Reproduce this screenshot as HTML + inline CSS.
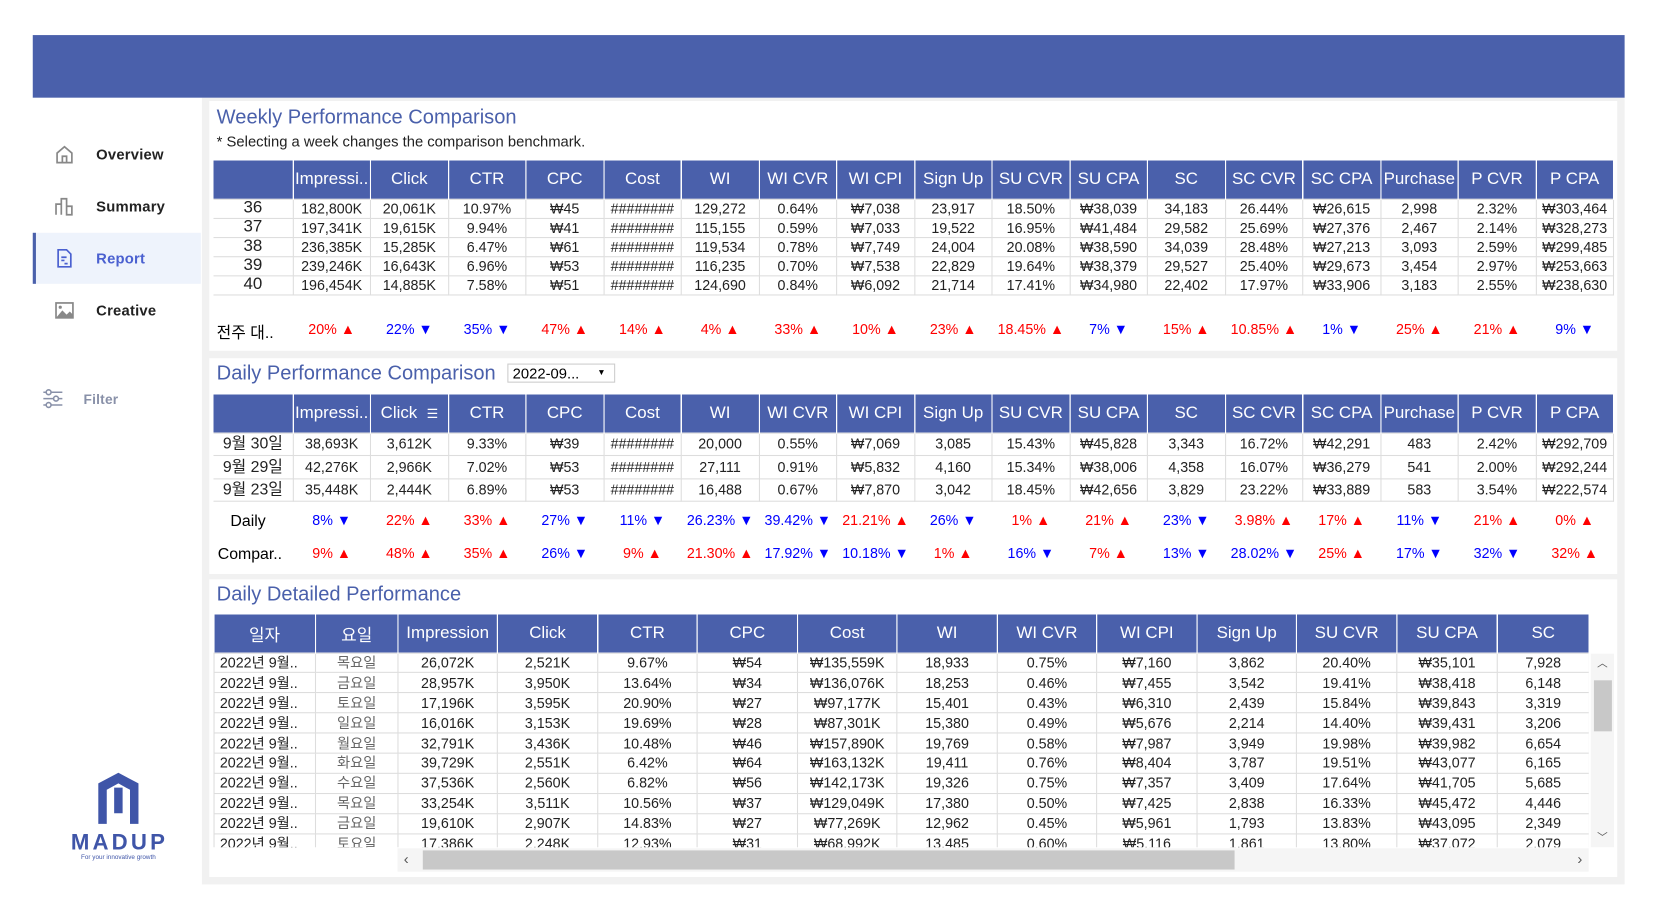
<!DOCTYPE html>
<html><head><meta charset="utf-8">
<style>
*{box-sizing:border-box;margin:0;padding:0}
body{width:1658px;height:912px;overflow:hidden;background:#fff;font-family:"Liberation Sans","Noto Sans CJK KR",sans-serif}
#wrap{position:absolute;left:0;top:0;width:1560px;height:858px;transform:scale(1.057,1.063);transform-origin:0 0}
.abs{position:absolute}
#banner{left:31px;top:33px;width:1506px;height:59px;background:#4a60ab}
#side{left:31px;top:92px;width:160px;height:740px;background:#fff}
.nav{position:absolute;left:0;width:159px;height:48px;display:flex;align-items:center;font-size:14px;color:#222;font-weight:bold;letter-spacing:.2px}
.nav svg{margin-left:20px;margin-right:20px}
#main{left:191px;top:92px;width:1346px;height:740px;background:#f1f1f1}
.card{position:absolute;background:#fff}
.title{position:absolute;left:7px;font-size:19px;color:#4a60ab}
table{border-collapse:collapse;position:absolute;table-layout:fixed}
th{background:#4a60ab;color:#fff;font-weight:normal;font-size:16px;border-right:1px solid #fff;text-align:center;white-space:nowrap;overflow:hidden}
td{font-size:13.5px;line-height:15px;text-align:center;border:1px solid #ddd;color:#222;white-space:nowrap;overflow:hidden;padding:0}
.up{color:#f00}.dn{color:#00f}
.dl{position:absolute;font-size:13.5px;text-align:center;white-space:nowrap}
</style></head><body>
<div id="wrap">
<div id="banner" class="abs"></div>
<div id="side" class="abs">
 <div class="nav" style="top:29px"><svg width="20" height="20" viewBox="0 0 20 20"><path d="M3 9 L10 3 L17 9 V18 H3 Z M8 18 V12 H12 V18" fill="none" stroke="#888" stroke-width="1.6"/></svg>Overview</div>
 <div class="nav" style="top:78px"><svg width="20" height="20" viewBox="0 0 20 20"><path d="M2 18 V8 H7 V18 M7 18 V3 H12 V18 M12 18 V10 H17 V18 Z" fill="none" stroke="#888" stroke-width="1.6"/></svg>Summary</div>
 <div class="nav" style="top:127px;background:#eef3fc;color:#4a60d0;border-left:3px solid #4a60ab;width:159px"><svg width="20" height="20" viewBox="0 0 20 20" style="margin-left:17px"><path d="M4 2 H12 L16 6 V18 H4 Z M7 9 H12 M7 12 H10 M10 15 H13" fill="none" stroke="#4a60d0" stroke-width="1.6"/></svg>Report</div>
 <div class="nav" style="top:176px"><svg width="20" height="20" viewBox="0 0 20 20"><rect x="2" y="3" width="16" height="14" fill="none" stroke="#888" stroke-width="1.6"/><path d="M2 17 L8 10 L12 14 L15 11 L18 14 V17 Z" fill="#888"/><circle cx="6" cy="7" r="1.5" fill="#888"/></svg>Creative</div>
 <div class="nav" style="top:259px;color:#8890a8;font-size:13px"><svg width="22" height="22" viewBox="0 0 22 22" style="margin-left:8px;margin-right:18px"><path d="M2 5 H20 M2 11 H20 M2 17 H20" stroke="#8890a8" stroke-width="1.5"/><circle cx="7" cy="5" r="2.3" fill="#fff" stroke="#8890a8" stroke-width="1.5"/><circle cx="14" cy="11" r="2.3" fill="#fff" stroke="#8890a8" stroke-width="1.5"/><circle cx="7" cy="17" r="2.3" fill="#fff" stroke="#8890a8" stroke-width="1.5"/></svg>Filter</div>
 <div class="abs" style="left:36px;top:633px;width:90px;text-align:center">
  <svg width="46" height="52" viewBox="0 0 46 52"><path d="M4 50 V12 L23 2 L42 12 V50 H34 V18 L23 12 L12 18 V50 Z" fill="#3f55a8"/><path d="M19 16 H27 V40 H19 Z" fill="#3f55a8"/></svg>
  <div style="font-size:21px;font-weight:bold;color:#3f55a8;letter-spacing:3px;line-height:22px">MADUP</div>
  <div style="font-size:6px;color:#3f55a8">For your innovative growth</div>
 </div>
</div>
<div id="main" class="abs">
 <div class="card" style="left:7px;top:3px;width:1332px;height:235px">
  <div class="title" style="top:5px">Weekly Performance Comparison</div>
  <div class="abs" style="left:7px;top:30px;font-size:14px;color:#222">* Selecting a week changes the comparison benchmark.</div>
  <table id="wt" style="left:4px;top:56px;width:1325px"></table>
  <div id="wd" class="abs" style="left:0;top:207px;width:1332px;height:16px"></div>
 </div>
 <div class="card" style="left:7px;top:245px;width:1332px;height:203px">
  <div class="title" style="top:4px">Daily Performance Comparison</div>
  <div class="abs" style="left:282px;top:5px;width:102px;height:18px;border:1px solid #ccc;font-size:14px;padding-left:4px;line-height:16px">2022-09...<span style="position:absolute;right:8px;font-size:8px">▼</span></div>
  <table id="dt" style="left:4px;top:34px;width:1325px"></table>
  <div id="dd1" class="abs" style="left:0;top:145px;width:1332px"></div>
  <div id="dd2" class="abs" style="left:0;top:176px;width:1332px"></div>
 </div>
 <div class="card" style="left:7px;top:453px;width:1332px;height:280px">
  <div class="title" style="top:4px">Daily Detailed Performance</div>
  <div class="abs" style="left:4px;top:33px;width:1301px;height:219px;overflow:hidden"><table id="xt" style="left:0;top:0;width:1301px"></table></div>
  <div class="abs" style="left:1307px;top:70px;width:22px;height:182px;background:#f5f5f5">
   <div class="abs" style="left:0;top:0;width:22px;text-align:center;font-size:10px;color:#555">︿</div>
   <div class="abs" style="left:3px;top:25px;width:17px;height:48px;background:#c8c8c8"></div>
   <div class="abs" style="left:0;top:164px;width:22px;text-align:center;font-size:10px;color:#555">﹀</div>
  </div>
  <div class="abs" style="left:178px;top:253px;width:1127px;height:22px;background:#f5f5f5">
   <div class="abs" style="left:6px;top:2px;font-size:14px;color:#555">‹</div>
   <div class="abs" style="left:24px;top:2px;width:768px;height:18px;background:#c8c8c8"></div>
   <div class="abs" style="right:6px;top:2px;font-size:14px;color:#555">›</div>
  </div>
 </div>
</div>
</div>
<script>
const cols=["Impressi..","Click","CTR","CPC","Cost","WI","WI CVR","WI CPI","Sign Up","SU CVR","SU CPA","SC","SC CVR","SC CPA","Purchase","P CVR","P CPA"];
const weekLabels=["36","37","38","39","40"];
const weekRows=[
["182,800K","20,061K","10.97%","₩45","########","129,272","0.64%","₩7,038","23,917","18.50%","₩38,039","34,183","26.44%","₩26,615","2,998","2.32%","₩303,464"],
["197,341K","19,615K","9.94%","₩41","########","115,155","0.59%","₩7,033","19,522","16.95%","₩41,484","29,582","25.69%","₩27,376","2,467","2.14%","₩328,273"],
["236,385K","15,285K","6.47%","₩61","########","119,534","0.78%","₩7,749","24,004","20.08%","₩38,590","34,039","28.48%","₩27,213","3,093","2.59%","₩299,485"],
["239,246K","16,643K","6.96%","₩53","########","116,235","0.70%","₩7,538","22,829","19.64%","₩38,379","29,527","25.40%","₩29,673","3,454","2.97%","₩253,663"],
["196,454K","14,885K","7.58%","₩51","########","124,690","0.84%","₩6,092","21,714","17.41%","₩34,980","22,402","17.97%","₩33,906","3,183","2.55%","₩238,630"]];
const weekDelta=["20%▲","22%▼","35%▼","47%▲","14%▲","4%▲","33%▲","10%▲","23%▲","18.45%▲","7%▼","15%▲","10.85%▲","1%▼","25%▲","21%▲","9%▼"];
const dayLabels=["9월 30일","9월 29일","9월 23일"];
const dayRows=[
["38,693K","3,612K","9.33%","₩39","########","20,000","0.55%","₩7,069","3,085","15.43%","₩45,828","3,343","16.72%","₩42,291","483","2.42%","₩292,709"],
["42,276K","2,966K","7.02%","₩53","########","27,111","0.91%","₩5,832","4,160","15.34%","₩38,006","4,358","16.07%","₩36,279","541","2.00%","₩292,244"],
["35,448K","2,444K","6.89%","₩53","########","16,488","0.67%","₩7,870","3,042","18.45%","₩42,656","3,829","23.22%","₩33,889","583","3.54%","₩222,574"]];
const dailyDelta=["8%▼","22%▲","33%▲","27%▼","11%▼","26.23%▼","39.42%▼","21.21%▲","26%▼","1%▲","21%▲","23%▼","3.98%▲","17%▲","11%▼","21%▲","0%▲"];
const comparDelta=["9%▲","48%▲","35%▲","26%▼","9%▲","21.30%▲","17.92%▼","10.18%▼","1%▲","16%▼","7%▲","13%▼","28.02%▼","25%▲","17%▼","32%▼","32%▲"];
const detCols=["일자","요일","Impression","Click","CTR","CPC","Cost","WI","WI CVR","WI CPI","Sign Up","SU CVR","SU CPA","SC"];
const detRows=[
["목요일","26,072K","2,521K","9.67%","₩54","₩135,559K","18,933","0.75%","₩7,160","3,862","20.40%","₩35,101","7,928"],
["금요일","28,957K","3,950K","13.64%","₩34","₩136,076K","18,253","0.46%","₩7,455","3,542","19.41%","₩38,418","6,148"],
["토요일","17,196K","3,595K","20.90%","₩27","₩97,177K","15,401","0.43%","₩6,310","2,439","15.84%","₩39,843","3,319"],
["일요일","16,016K","3,153K","19.69%","₩28","₩87,301K","15,380","0.49%","₩5,676","2,214","14.40%","₩39,431","3,206"],
["월요일","32,791K","3,436K","10.48%","₩46","₩157,890K","19,769","0.58%","₩7,987","3,949","19.98%","₩39,982","6,654"],
["화요일","39,729K","2,551K","6.42%","₩64","₩163,132K","19,411","0.76%","₩8,404","3,787","19.51%","₩43,077","6,165"],
["수요일","37,536K","2,560K","6.82%","₩56","₩142,173K","19,326","0.75%","₩7,357","3,409","17.64%","₩41,705","5,685"],
["목요일","33,254K","3,511K","10.56%","₩37","₩129,049K","17,380","0.50%","₩7,425","2,838","16.33%","₩45,472","4,446"],
["금요일","19,610K","2,907K","14.83%","₩27","₩77,269K","12,962","0.45%","₩5,961","1,793","13.83%","₩43,095","2,349"],
["토요일","17,386K","2,248K","12.93%","₩31","₩68,992K","13,485","0.60%","₩5,116","1,861","13.80%","₩37,072","2,079"]];

function header(t,list,w0,h){
  const tr=document.createElement('tr');
  list.forEach((c,i)=>{const th=document.createElement('th');th.textContent=c;th.style.height=h+'px';
    if(w0&&i===0)th.style.width=w0+'px';
    
    
    tr.appendChild(th);});
  t.appendChild(tr);
}
function body(t,labels,rows,h,lblStyle){
  rows.forEach((r,ri)=>{const tr=document.createElement('tr');
    
    
    const cells=labels?[labels[ri]].concat(r):r;
    cells.forEach((v,i)=>{const td=document.createElement('td');td.textContent=v;td.style.height=h+'px';
      if(i===0&&lblStyle)td.style.cssText+=lblStyle;
      tr.appendChild(td);});
    t.appendChild(tr);});
}
const wt=document.getElementById('wt');
header(wt,[""].concat(cols),75,36);
body(wt,weekLabels,weekRows,18,"font-size:16px;line-height:16px;border-left:none");
const dt=document.getElementById('dt');
header(dt,[""].concat(cols),75,36);
body(dt,dayLabels,dayRows,21.5,"font-size:15px;border-left:none");
dt.rows[0].cells[2].innerHTML='Click&nbsp;&nbsp;<span style="font-size:12px">☰</span>';
function deltas(el,label,arr,lblLeft){
  const l=document.createElement('div');l.className='dl';l.style.left=lblLeft+'px';l.style.fontSize='15px';l.textContent=label;
  
  
  el.appendChild(l);
  arr.forEach((v,i)=>{const d=document.createElement('div');d.className='dl '+(v.indexOf('▲')>=0?'up':'dn');
    d.style.left=(4+75+i*73.5)+'px';d.style.width='73.5px';d.textContent=v.replace(/([▲▼])/,' $1');
    
    
    el.appendChild(d);});
}
deltas(document.getElementById('wd'),'전주 대..',weekDelta,7);
deltas(document.getElementById('dd1'),'Daily',dailyDelta,20);
deltas(document.getElementById('dd2'),'Compar..',comparDelta,8);
const xt=document.getElementById('xt');
header(xt,detCols,0,36);
const widths=[96,78,94,95,94,95,94,95,94,95,94,95,95,87];
widths.forEach((w,i)=>xt.rows[0].cells[i].style.width=w+'px');
body(xt,detRows.map(()=> "2022년 9월.."),detRows,18.9,"text-align:left;padding-left:5px");
for(let i=1;i<xt.rows.length;i++){xt.rows[i].cells[1].style.color='#666';}
</script>
</body></html>
